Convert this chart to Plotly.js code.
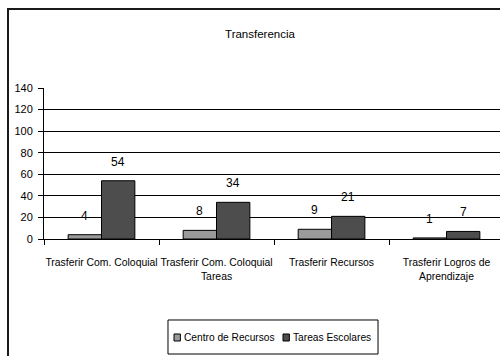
<!DOCTYPE html>
<html><head><meta charset="utf-8">
<script src="https://cdn.plot.ly/plotly-3.0.1.min.js"></script>
<style>
html,body{margin:0;padding:0;background:#fff;overflow:hidden;}
#frame{position:absolute;left:7px;top:8px;width:540px;height:400px;border:2px solid #1a1a1a;}
#chart{position:absolute;left:0;top:0;width:500px;height:356px;}
</style></head>
<body>
<div id="frame"></div>
<div id="chart"></div>
<script>
const categories = ["Trasferir Com. Coloquial", "Trasferir Com. Coloquial<br>Tareas", "Trasferir Recursos", "Trasferir Logros de<br>Aprendizaje"];
const seriesNames = ["Centro de Recursos", "Tareas Escolares"];
const centroValues = [4, 8, 9, 1];
const tareasValues = [54, 34, 21, 7];
const yTicks = [0, 20, 40, 60, 80, 100, 120, 140];

const FONT = "'Liberation Sans', Arial, sans-serif";
const colors = ["#9a9a9a", "#4d4d4d"];
const series = [centroValues, tareasValues];

const traces = series.map((vals, i) => ({
  type: "bar",
  name: seriesNames[i],
  x: categories,
  y: vals,
  marker: {color: colors[i], line: {color: "#000", width: 1}},
  hoverinfo: "none",
  showlegend: false
}));

// data labels
const offset = 0.146;
const annotations = [];
series.forEach((vals, i) => {
  vals.forEach((v, j) => {
    annotations.push({
      x: j + (i === 0 ? -offset : offset), y: v, xref: "x", yref: "y",
      text: String(v), showarrow: false, yanchor: "bottom", yshift: 10,
      font: {family: FONT, size: 12, color: "#000"}
    });
  });
});

// custom legend (paper coords relative to plot area)
const legendBox = {x0: 0.2719, x1: 0.7325, y0: -0.7616, y1: -0.5364};
const legendSwatchX = [0.2851, 0.5241];
const legendTextX = [0.3026, 0.5417];
const swW = 0.0140, swY0 = -0.6755, swY1 = -0.6291, legY = -0.6523;
const shapes = [{
  type: "rect", xref: "paper", yref: "paper",
  x0: legendBox.x0, x1: legendBox.x1, y0: legendBox.y0, y1: legendBox.y1,
  line: {color: "#000", width: 1}, fillcolor: "#fff", layer: "above"
}];
seriesNames.forEach((name, i) => {
  shapes.push({
    type: "rect", xref: "paper", yref: "paper",
    x0: legendSwatchX[i], x1: legendSwatchX[i] + swW, y0: swY0, y1: swY1,
    line: {color: "#000", width: 1}, fillcolor: colors[i], layer: "above"
  });
  annotations.push({
    x: legendTextX[i], y: legY, xref: "paper", yref: "paper",
    xanchor: "left", yanchor: "middle", showarrow: false, text: name,
    font: {family: FONT, size: 10.2, color: "#000"}
  });
});

const layout = {
  width: 500, height: 356,
  margin: {l: 44, r: 0, t: 88, b: 117},
  paper_bgcolor: "rgba(0,0,0,0)",
  plot_bgcolor: "rgba(0,0,0,0)",
  font: {family: FONT, size: 11, color: "#000"},
  title: {text: "Transferencia", x: 0.52, xref: "container", xanchor: "center", y: 0.905, yref: "container", yanchor: "middle", font: {family: FONT, size: 11.5, color: "#000"}},
  barmode: "group",
  bargap: 0.42,
  bargroupgap: 0,
  showlegend: false,
  xaxis: {
    type: "category",
    range: [-0.5, 3.465],
    showline: true, linecolor: "#000", linewidth: 1,
    ticks: "outside", tickson: "boundaries", ticklen: 5, tickcolor: "#000",
    tickangle: 0, ticklabelstandoff: 14,
    showgrid: false, zeroline: false,
    tickfont: {family: FONT, size: 10.4, color: "#000"},
    fixedrange: true
  },
  yaxis: {
    range: [0, 140],
    tickvals: yTicks,
    showline: true, linecolor: "#000", linewidth: 1,
    ticks: "outside", ticklen: 5, tickcolor: "#000",
    ticklabelstandoff: 3,
    showgrid: true, gridcolor: "#000", gridwidth: 1,
    zeroline: false,
    tickfont: {family: FONT, size: 11, color: "#000"},
    fixedrange: true
  },
  shapes: shapes,
  annotations: annotations
};

Plotly.newPlot("chart", traces, layout, {displayModeBar: false, staticPlot: true});
</script>
</body></html>
